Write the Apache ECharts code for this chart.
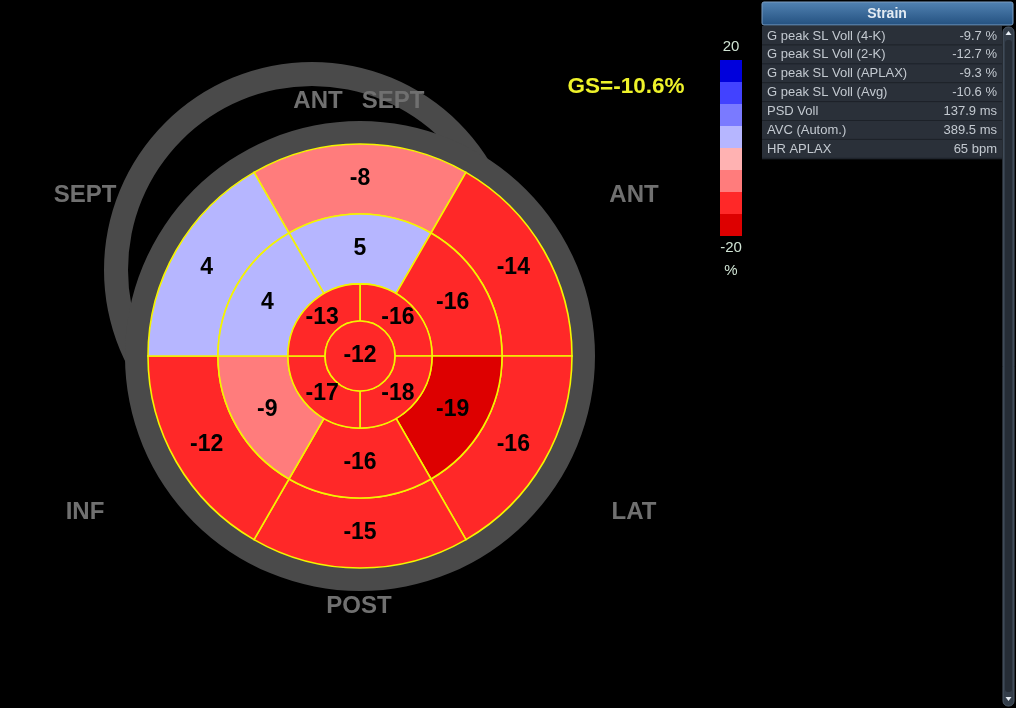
<!DOCTYPE html>
<html><head><meta charset="utf-8">
<script src="https://cdn.jsdelivr.net/npm/echarts@6/dist/echarts.min.js"></script>
<style>html,body{margin:0;padding:0;background:#000;overflow:hidden}#c{width:1016px;height:708px}</style>
</head><body><div id="c"></div>
<script>
// ---- data (17-segment bullseye, clockwise from top) ----
const basalValues  = [-8, -14, -16, -15, -12, 4];   // ANT SEPT, ANT, LAT, POST, INF, SEPT
const midValues    = [5, -16, -19, -16, -9, 4];
const apicalValues = [-16, -18, -17, -13];          // quadrants from top, clockwise
const apexValues   = [-12];
const ringEdges    = [0, 0.165, 0.34, 0.67, 1];     // fraction of bullseye radius
const wallLabels   = ['ANT', 'SEPT', 'SEPT', 'ANT', 'INF', 'LAT', 'POST'];
const globalStrain = 'GS=-10.6%';
const scaleEnds    = ['20', '-20'];
const scaleUnit    = '%';
const tableTitle   = 'Strain';
const tableLabels  = ['G peak SL Voll (4-K)', 'G peak SL Voll (2-K)', 'G peak SL Voll (APLAX)', 'G peak SL Voll (Avg)', 'PSD Voll', 'AVC (Autom.)', 'HR APLAX'];
const tableValues  = ['-9.7 %', '-12.7 %', '-9.3 %', '-10.6 %', '137.9 ms', '389.5 ms', '65 bpm'];

function ring(values, rIn, rOut, offset) {
  const step = 360 / values.length;
  return values.map((v, i) => {
    const a0 = ((offset + i * step) % 360 + 360) % 360;
    return [rIn, rOut, a0, a0 + step, v];
  });
}
const segData = [].concat(
  ring(basalValues, ringEdges[3], ringEdges[4], -30),
  ring(midValues, ringEdges[2], ringEdges[3], -30),
  ring(apicalValues, ringEdges[1], ringEdges[2], 0),
  ring(apexValues, ringEdges[0], ringEdges[1], 0)
);

const FONT = '"Liberation Sans", Arial, sans-serif';
const CX = 360, CY = 356, R = 212;
const graphics = [];
// LV outline rings (decoration)
graphics.push({type: 'ring', z: 0, shape: {cx: 312, cy: 270, r: 208, r0: 184}, style: {fill: '#4a4a4a'}});
graphics.push({type: 'ring', z: 0, shape: {cx: CX, cy: CY, r: 235, r0: 210}, style: {fill: '#4a4a4a'}});
// wall labels
const wallPos = [[318, 101], [393, 101], [85, 195], [634, 195], [85, 512], [634, 512], [359, 606]];
wallLabels.forEach((t, i) => graphics.push({type: 'text', z: 1, style: {text: t, x: wallPos[i][0], y: wallPos[i][1], align: 'center', verticalAlign: 'middle', fill: '#707070', font: 'bold 24px ' + FONT}}));
graphics.push({type: 'text', z: 1, style: {text: globalStrain, x: 626, y: 87, align: 'center', verticalAlign: 'middle', fill: '#eef22a', font: 'bold 22.5px ' + FONT}});
// colour-scale end texts and unit
[[scaleEnds[0], 47], [scaleEnds[1], 248], [scaleUnit, 271]].forEach(([t, y]) =>
  graphics.push({type: 'text', z: 1, style: {text: t, x: 731, y: y, align: 'center', verticalAlign: 'middle', fill: '#cfe3d3', font: '15px ' + FONT}}));
// table panel
const rowH = 18.9, rowTop = 26;
graphics.push({type: 'rect', z: 1, shape: {x: 762, y: rowTop, width: 240, height: rowH * 7 + 1}, style: {fill: '#2a3039'}});
tableLabels.forEach((t, i) => {
  const y = rowTop + rowH * i;
  graphics.push({type: 'line', z: 2, shape: {x1: 762, y1: y + rowH, x2: 1002, y2: y + rowH}, style: {stroke: '#1c2128', lineWidth: 1}});
  graphics.push({type: 'text', z: 3, style: {text: t, x: 767, y: y + rowH / 2 + 0.5, align: 'left', verticalAlign: 'middle', fill: '#c3c9d0', font: '13px ' + FONT}});
  graphics.push({type: 'text', z: 3, style: {text: tableValues[i], x: 997, y: y + rowH / 2 + 0.5, align: 'right', verticalAlign: 'middle', fill: '#c3c9d0', font: '13px ' + FONT}});
});
graphics.push({type: 'rect', z: 4, shape: {x: 762, y: 2, width: 251, height: 23, r: 2}, style: {fill: {type: 'linear', x: 0, y: 0, x2: 0, y2: 1, colorStops: [{offset: 0, color: '#5283b3'}, {offset: 1, color: '#23507f'}]}, stroke: '#7a9cc0', lineWidth: 1}});
graphics.push({type: 'text', z: 5, style: {text: tableTitle, x: 887, y: 14, align: 'center', verticalAlign: 'middle', fill: '#e3ebf3', font: 'bold 14px ' + FONT}});
// scrollbar
graphics.push({type: 'rect', z: 2, shape: {x: 1003, y: 27, width: 11, height: 679, r: 5}, style: {fill: '#343e4a', stroke: '#4c5866', lineWidth: 1}});
graphics.push({type: 'rect', z: 3, shape: {x: 1005, y: 40, width: 7, height: 652, r: 3}, style: {fill: '#262d36'}});
graphics.push({type: 'polygon', z: 4, shape: {points: [[1005.5, 35], [1011.5, 35], [1008.5, 31]]}, style: {fill: '#e8eef4'}});
graphics.push({type: 'polygon', z: 4, shape: {points: [[1005.5, 697], [1011.5, 697], [1008.5, 701]]}, style: {fill: '#e8eef4'}});

const option = {
  backgroundColor: '#000',
  animation: false,
  polar: {center: [CX, CY], radius: R},
  radiusAxis: {type: 'value', min: 0, max: 1, show: false},
  angleAxis: {type: 'value', min: 0, max: 360, startAngle: 90, clockwise: true, show: false},
  visualMap: {
    type: 'piecewise', seriesIndex: 0, dimension: 4, orient: 'vertical',
    left: 720, top: 60, padding: 0, itemWidth: 22, itemHeight: 22, itemGap: 0,
    itemSymbol: 'rect', showLabel: false, selectedMode: false, hoverLink: false,
    textStyle: {color: '#cfe3d3', fontSize: 15, fontFamily: FONT},
    pieces: [
      {gte: -20, lt: -18.5, color: '#dd0000'},
      {gte: -18.5, lt: -10.5, color: '#ff2828'},
      {gte: -10.5, lt: -5.5, color: '#ff7c7c'},
      {gte: -5.5, lt: -0.5, color: '#ffb2b2'},
      {gte: -0.5, lt: 6.5, color: '#b6b6ff'},
      {gte: 6.5, lt: 11.5, color: '#7a7aff'},
      {gte: 11.5, lt: 16.5, color: '#4242ff'},
      {gte: 16.5, lte: 20, color: '#0000dc'}
    ]
  },
  graphic: graphics,
  series: [{
    type: 'custom', coordinateSystem: 'polar', z: 5, silent: true,
    data: segData,
    renderItem: function (params, api) {
      const cs = params.coordSys;
      const cx = cs.cx, cy = cs.cy;
      const r0 = api.value(0), r1 = api.value(1), a0 = api.value(2), a1 = api.value(3), v = api.value(4);
      const pOut = api.coord([r1, a0 % 360]);
      const pIn = api.coord([r0, a0 % 360]);
      const Ro = Math.hypot(pOut[0] - cx, pOut[1] - cy);
      const Ri = Math.hypot(pIn[0] - cx, pIn[1] - cy);
      const start = Math.atan2(pOut[1] - cy, pOut[0] - cx);
      const sweep = (a1 - a0) * Math.PI / 180;
      const rm = r0 === 0 ? 0 : (r0 + r1) / 2;
      const pm = api.coord([rm, ((a0 + a1) / 2) % 360]);
      return {type: 'group', children: [
        {type: 'sector', shape: {cx: cx, cy: cy, r0: Ri, r: Ro, startAngle: start, endAngle: start + sweep, clockwise: true},
         style: {fill: api.visual('color'), stroke: '#f4f400', lineWidth: 1.6}},
        {type: 'text', z2: 10, style: {text: String(v), x: pm[0], y: pm[1], align: 'center', verticalAlign: 'middle', fill: '#000', font: 'bold 23px ' + FONT}}
      ]};
    }
  }]
};
const chart = echarts.init(document.getElementById('c'), null, {renderer: 'canvas'});
chart.setOption(option);
</script></body></html>
